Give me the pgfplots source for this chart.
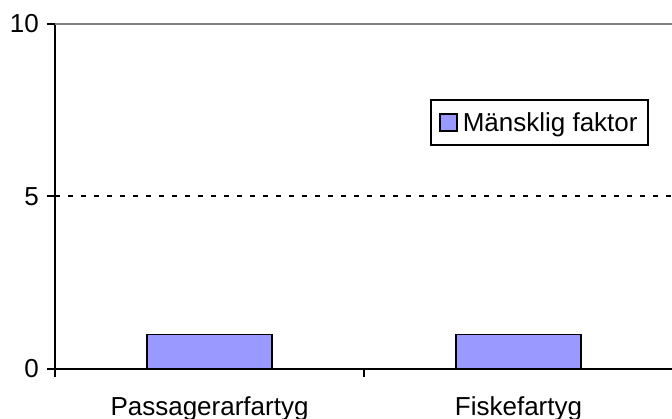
\documentclass[border=0pt]{standalone}
\usepackage{pgfplots}
\pgfplotsset{compat=1.18}
\usepackage{fontspec}
\setmainfont{Liberation Sans}
\definecolor{barc}{HTML}{9999FF}
\begin{document}
\begin{tikzpicture}
\begin{axis}[
  at={(0pt,0pt)}, anchor=south west,
  scale only axis,
  width=618pt, height=345pt,
  xmin=-0.5, xmax=1.5, ymin=0, ymax=10,
  axis x line=bottom, axis y line=left,
  axis line style={-, black, line width=2pt},
  tick align=outside,
  major tick length=8pt,
  tick style={black, line width=2pt},
  xtick={-0.5,0.5,1.5}, xticklabels={},
  extra x ticks={0,1},
  extra x tick labels={Passagerarfartyg,Fiskefartyg},
  extra x tick style={major tick length=0pt},
  ytick={0,5},
  extra y ticks={10},
  extra y tick style={grid style={gray, line width=2pt, solid}},
  ymajorgrids,
  grid style={black, line width=2pt, dash pattern=on 5pt off 8pt},
  /pgf/number format/assume math mode=true,
  ticklabel style={font=\fontsize{26}{30}\selectfont, inner sep=0pt},
  xticklabel style={yshift=-27pt},
  yticklabel style={xshift=-8pt},
  legend style={at={(axis description cs:0.6068,0.7826)}, anchor=north west,
    draw=black, line width=2pt, inner xsep=8pt, inner ysep=10.5pt,
    font=\fontsize{26}{30}\selectfont},
]
\addplot[ybar, bar width=125pt, fill=barc, draw=black, line width=1.5pt,
  legend image code/.code={\draw[fill=barc, draw=black, line width=2pt] (0pt,-8.5pt) rectangle (17pt,8.5pt); \path (20pt,0pt);}]
  coordinates {(0,1) (1,1)};
\addlegendentry{Mänsklig faktor}
\end{axis}
\pgfresetboundingbox
\path[use as bounding box] (-55pt,-50pt) rectangle (617pt,369pt);
\end{tikzpicture}
\end{document}
